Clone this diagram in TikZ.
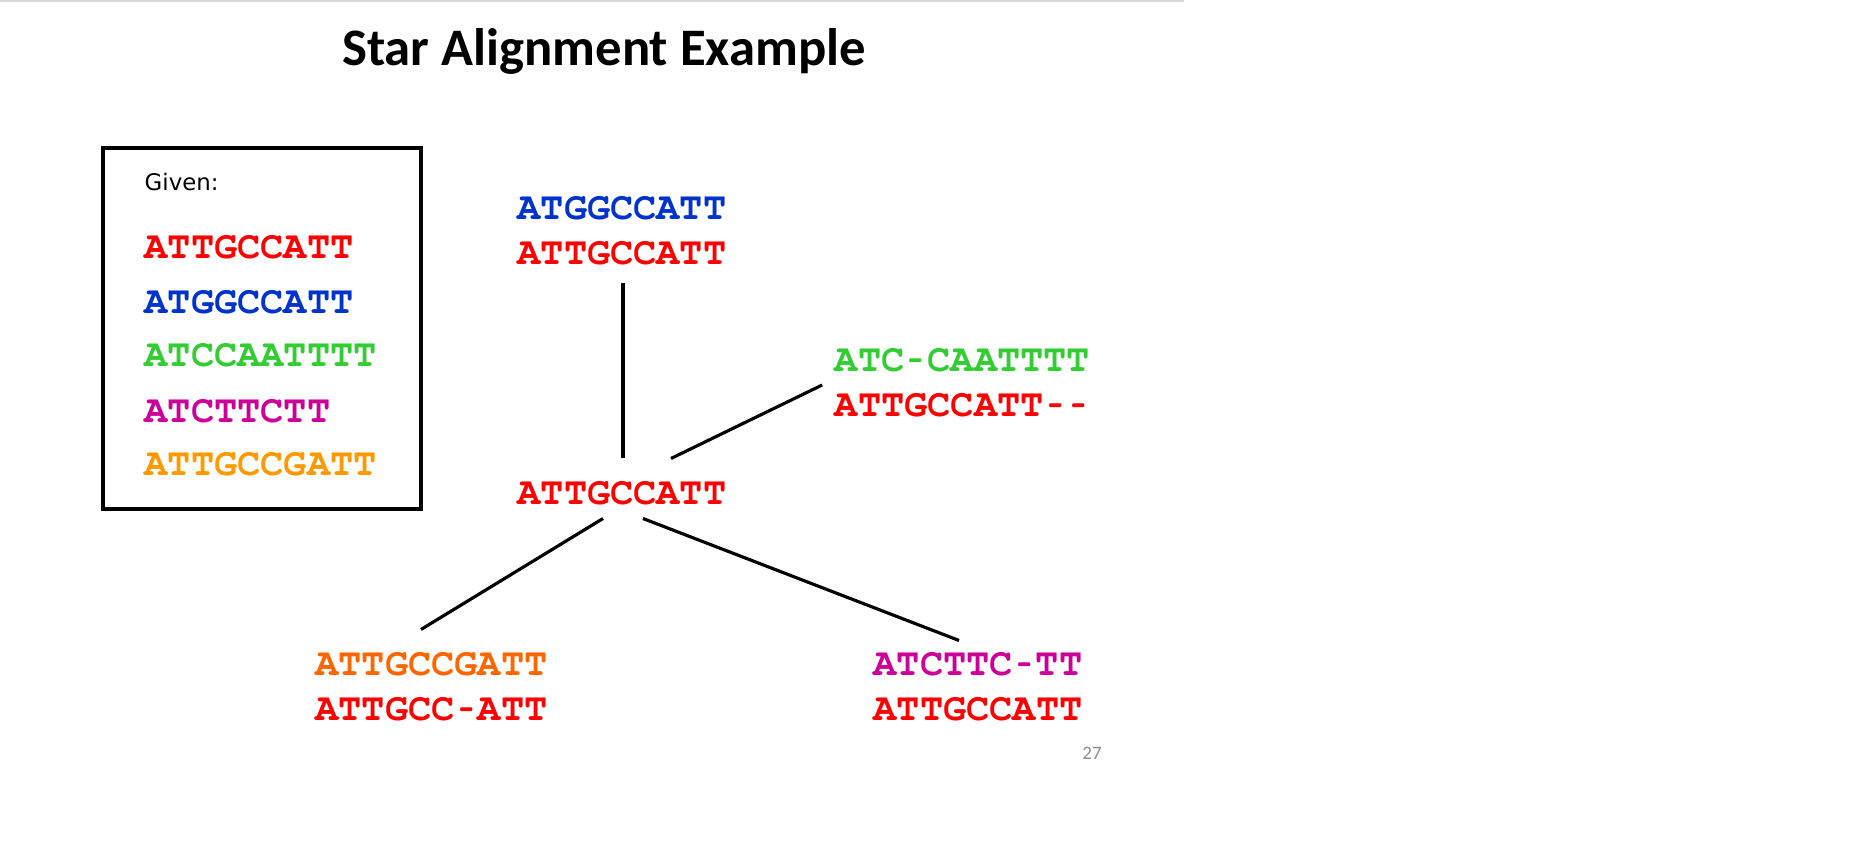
\documentclass[tikz,border=0pt]{standalone}
\usepackage{fontspec}
\setmainfont{Carlito}
\setmonofont{texgyrecursor}[Extension=.otf, UprightFont=*-regular, BoldFont=*-bold]
\newfontfamily\givenfont{DejaVu Sans}
\usetikzlibrary{calc}
\definecolor{seqred}{RGB}{255,0,0}
\definecolor{seqblue}{RGB}{0,51,204}
\definecolor{seqgreen}{RGB}{51,204,51}
\definecolor{seqmagenta}{RGB}{204,0,153}
\definecolor{seqorange}{RGB}{255,153,0}
\definecolor{seqdarkorange}{RGB}{255,102,0}
\definecolor{pagegray}{RGB}{140,140,140}
\newcommand{\seqfont}{\fontsize{11}{12.8}\selectfont\ttfamily\bfseries}
\newcommand{\gp}{\makebox[0.6em]{\scalebox{0.62}[1]{-}}}

\begin{document}
\begin{tikzpicture}[
  seq/.style={inner sep=0pt, font=\seqfont, align=left, text=seqred},
  link/.style={line width=0.9pt},
]
\useasboundingbox (0,0) rectangle (18.56,-8.41);

% slide rule and title
\draw[line width=0.6pt, black!15] (0,-0.01) -- (11.84,-0.01);
\node[font=\fontsize{15}{18}\selectfont\bfseries, anchor=base] (title) at (6.04,-0.66) {Star Alignment Example};

% the given sequences
\draw[line width=1pt] (1.03,-1.48) rectangle (4.21,-5.09);
\node[font=\givenfont\fontsize{6.5}{8}\selectfont, anchor=west, inner sep=0pt] (given) at (1.44,-1.82) {Given:};
\foreach \s/\c/\y [count=\i] in {ATTGCCATT/seqred/2.47, ATGGCCATT/seqblue/3.02, ATCCAATTTT/seqgreen/3.55, ATCTTCTT/seqmagenta/4.11, ATTGCCGATT/seqorange/4.64}
  \node[seq, text=\c, anchor=west] (g\i) at (1.44,-\y) {\s};

% pairwise alignments round the centre sequence
\node[seq] (hub) at (6.22,-4.93) {ATTGCCATT};
\node[seq] (top) at (6.22,-2.305) {\textcolor{seqblue}{ATGGCCATT}\\ATTGCCATT};
\node[seq] (rpair) at (9.625,-3.825) {\textcolor{seqgreen}{ATC\gp CAATTTT}\\ATTGCCATT\gp\gp};
\node[seq] (blpair) at (4.315,-6.865) {\textcolor{seqdarkorange}{ATTGCCGATT}\\ATTGCC\gp ATT};
\node[seq] (brpair) at (9.78,-6.865) {\textcolor{seqmagenta}{ATCTTC\gp TT}\\ATTGCCATT};

\draw[link] ($(top.south)+(0.01,-0.18)$) -- ($(hub.north)+(0.01,0.22)$);
\draw[link] ($(hub.north)+(0.49,0.22)$) -- ($(rpair.west)+(-0.12,-0.025)$);
\draw[link] ($(hub.south)+(-0.19,-0.13)$) -- ($(blpair.north)+(-0.105,0.22)$);
\draw[link] ($(hub.south)+(0.21,-0.13)$) -- ($(brpair.north)+(-0.19,0.11)$);

\node[font=\fontsize{5.4}{6}\selectfont, text=pagegray] (pnum) at (10.92,-7.53) {27};
\end{tikzpicture}
\end{document}
